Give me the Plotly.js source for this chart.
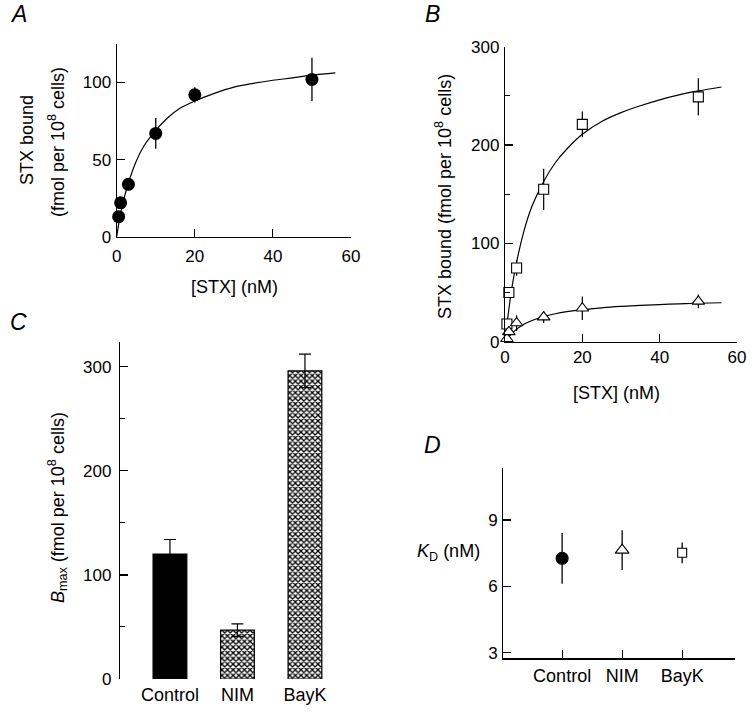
<!DOCTYPE html>
<html><head><meta charset="utf-8">
<script src="https://cdn.plot.ly/plotly-3.0.1.min.js"></script>
<style>html,body{margin:0;padding:0;background:#fff}#chart{width:753px;height:716px}</style>
</head><body><div id="chart"></div><script>
// ---- Panel A: control binding ----
const aConc = [0.5, 1, 3, 10, 20, 50];
const aBound = [13, 22, 34, 67, 92, 102];
const aErr = [0, 0, 0, 10, 5, 14];
const aFitX = [0, 0.5, 1, 2, 3, 5, 7, 10, 13, 16, 20, 25, 30, 35, 40, 45, 50, 56];
const aFitY = [0, 8, 15, 26, 35, 49, 59, 69, 77, 83, 88, 93, 97, 99.5, 101.5, 103, 104.8, 106.3];

// ---- Panel B: BayK (squares) and NIM (triangles) ----
const bConc = [0.5, 1, 3, 10, 20, 50];
const bayBound = [18, 50, 75, 155, 221, 249];
const bayErr = [0, 0, 8, 21, 13, 19];
const nimBound = [3, 10, 19, 25, 34, 41];
const nimErr = [0, 0, 8, 6, 12, 7];
const bFitX = [0, 0.5, 1, 2, 3, 5, 7, 10, 13, 16, 20, 25, 30, 35, 40, 45, 50, 56];
const bayFitY = [0, 17, 33, 60, 81, 114, 138, 163, 182, 196, 211, 224, 233, 240, 246, 251, 255, 259];
const nimFitY = [0, 2.8, 5.2, 9.4, 12.7, 17.9, 21.6, 25.6, 28.4, 30.5, 32.6, 34.5, 35.9, 37, 37.8, 38.5, 39.1, 39.6];

// ---- Panel C: Bmax ----
const groups = ['Control', 'NIM', 'BayK'];
const bmax = [120, 47, 296];
const bmaxErr = [14, 6, 16];

// ---- Panel D: KD ----
const kd = [7.27, 7.64, 7.52];
const kdErr = [1.15, 0.9, 0.47];

const FONT = 'Liberation Sans, Arial, Helvetica, sans-serif';
const W = 753, H = 716;
const px = v => v / W;
const py = v => 1 - v / H;

const dSymbols = [
  {symbol: 'circle', size: 12, color: '#000'},
  {symbol: 'triangle-up', size: 12, color: '#fff'},
  {symbol: 'square', size: 9, color: '#fff'}
];

const traces = [
  // A
  {x: aFitX, y: aFitY, xaxis: 'x', yaxis: 'y', mode: 'lines', line: {color: '#000', width: 1.2, shape: 'spline'}, hoverinfo: 'skip'},
  {x: aConc, y: aBound, xaxis: 'x', yaxis: 'y', mode: 'markers',
   marker: {symbol: 'circle', size: 13, color: '#000'},
   error_y: {type: 'data', array: aErr, color: '#000', thickness: 1.3, width: 0}, cliponaxis: false},
  // B
  {x: bFitX, y: bayFitY, xaxis: 'x2', yaxis: 'y2', mode: 'lines', line: {color: '#000', width: 1.2, shape: 'spline'}, hoverinfo: 'skip'},
  {x: bFitX, y: nimFitY, xaxis: 'x2', yaxis: 'y2', mode: 'lines', line: {color: '#000', width: 1.2, shape: 'spline'}, hoverinfo: 'skip'},
  {x: bConc, y: bayBound, xaxis: 'x2', yaxis: 'y2', mode: 'markers',
   marker: {symbol: 'square', size: 10, color: '#fff', line: {color: '#000', width: 1.1}},
   error_y: {type: 'data', array: bayErr, color: '#000', thickness: 1.2, width: 0}, cliponaxis: false},
  {x: bConc, y: nimBound, xaxis: 'x2', yaxis: 'y2', mode: 'markers',
   marker: {symbol: 'triangle-up', size: 11, color: '#fff', line: {color: '#000', width: 1.1}},
   error_y: {type: 'data', array: nimErr, color: '#000', thickness: 1.2, width: 0}, cliponaxis: false},
  // C: solid control bar
  {x: groups.slice(0, 1), y: bmax.slice(0, 1), xaxis: 'x3', yaxis: 'y3', type: 'bar', width: 0.5,
   marker: {color: '#000', line: {color: '#000', width: 1.2}},
   error_y: {type: 'data', array: bmaxErr.slice(0, 1), color: '#000', thickness: 1.2, width: 6}},
  // C: hatched NIM and BayK bars
  {x: groups.slice(1), y: bmax.slice(1), xaxis: 'x3', yaxis: 'y3', type: 'bar', width: 0.5,
   marker: {color: '#fff', line: {color: '#000', width: 1.2},
            pattern: {shape: 'x', fgcolor: '#000', bgcolor: '#fff', size: 4, solidity: 0.55, fillmode: 'replace'}},
   error_y: {type: 'data', array: bmaxErr.slice(1), color: '#000', thickness: 1.2, width: 6}}
].concat(groups.map((g, i) => ({
  // D: one trace per group
  x: [g], y: [kd[i]], xaxis: 'x4', yaxis: 'y4', mode: 'markers',
  marker: {symbol: dSymbols[i].symbol, size: dSymbols[i].size, color: dSymbols[i].color, opacity: 1, line: {color: '#000', width: 1.1}},
  error_y: {type: 'data', array: [kdErr[i]], color: '#000', thickness: 1.3, width: 0}, cliponaxis: false
})));

const baseAx = {
  showline: true, linecolor: '#000', linewidth: 1.2, showgrid: false, zeroline: false,
  ticks: 'inside', ticklen: 8, tickwidth: 1.2, tickcolor: '#000',
  tickfont: {family: FONT, size: 17, color: '#000'}, fixedrange: true
};

const layout = {
  width: W, height: H, margin: {l: 0, r: 0, t: 0, b: 0},
  paper_bgcolor: '#fff', plot_bgcolor: 'rgba(0,0,0,0)', showlegend: false, barmode: 'overlay',
  font: {family: FONT, color: '#000'},
  xaxis: Object.assign({}, baseAx, {domain: [px(116.7), px(351)], range: [0, 60], tickvals: [0, 20, 40, 60], anchor: 'y', ticklabelstandoff: 4}),
  yaxis: Object.assign({}, baseAx, {domain: [py(236.7), py(44)], range: [0, 125], tickvals: [0, 50, 100], anchor: 'x', ticklabelstandoff: 1}),
  xaxis2: Object.assign({}, baseAx, {domain: [px(505), px(737)], range: [0, 60], tickvals: [0, 20, 40, 60], anchor: 'y2', ticklabelstandoff: 0}),
  yaxis2: Object.assign({}, baseAx, {domain: [py(341.7), py(46.7)], range: [0, 300], tickvals: [0, 100, 200, 300], anchor: 'x2', ticklabelstandoff: 1,
    minor: {tickvals: [50, 150, 250], ticks: 'inside', ticklen: 5, tickwidth: 1, tickcolor: '#000'}}),
  xaxis3: Object.assign({}, baseAx, {type: 'category', domain: [px(120), px(338.7)], range: [-0.74, 2.5], showline: false, ticks: '', anchor: 'y3',
    tickfont: {family: FONT, size: 18, color: '#000'}, ticklabelstandoff: 3}),
  yaxis3: Object.assign({}, baseAx, {domain: [py(679), py(341.7)], range: [0, 324], tickvals: [0, 100, 200, 300], anchor: 'x3', ticklabelstandoff: 4,
    minor: {tickvals: [50, 150, 250], ticks: 'inside', ticklen: 5, tickwidth: 1, tickcolor: '#000'}}),
  xaxis4: Object.assign({}, baseAx, {type: 'category', domain: [px(503.3), px(735)], range: [-0.98, 2.88], anchor: 'y4',
    tickfont: {family: FONT, size: 18, color: '#000'}, ticklabelstandoff: 1}),
  yaxis4: Object.assign({}, baseAx, {domain: [py(658.3), py(468.3)], range: [2.75, 11.34], tickvals: [3, 6, 9], anchor: 'x4', ticklabelstandoff: 1}),
  annotations: [
    // panel letters
    {text: '<i>A</i>', x: px(18), y: py(14)},
    {text: '<i>B</i>', x: px(432), y: py(14)},
    {text: '<i>C</i>', x: px(18), y: py(322)},
    {text: '<i>D</i>', x: px(432), y: py(445)},
  ].map(a => Object.assign(a, {xref: 'paper', yref: 'paper', xanchor: 'center', yanchor: 'middle', showarrow: false, font: {size: 23, family: FONT}}))
  .concat([
    // axis titles
    {text: 'STX bound', x: px(27), y: py(140), textangle: -90},
    {text: '(fmol per 10<sup>8</sup> cells)', x: px(56), y: py(142), textangle: -90},
    {text: '[STX] (nM)', x: px(234), y: py(287)},
    {text: 'STX bound (fmol per 10<sup>8</sup> cells)', x: px(443), y: py(197), textangle: -90},
    {text: '[STX] (nM)', x: px(616), y: py(393)},
    {text: '<i>B</i><sub>max</sub> (fmol per 10<sup>8</sup> cells)', x: px(57), y: py(508), textangle: -90},
    {text: '<i>K</i><sub>D</sub> (nM)', x: px(448), y: py(552)}
  ].map(a => Object.assign(a, {xref: 'paper', yref: 'paper', xanchor: 'center', yanchor: 'middle', showarrow: false, font: {size: 18, family: FONT}})))
};

Plotly.newPlot('chart', traces, layout, {staticPlot: true, displayModeBar: false});
</script></body></html>
